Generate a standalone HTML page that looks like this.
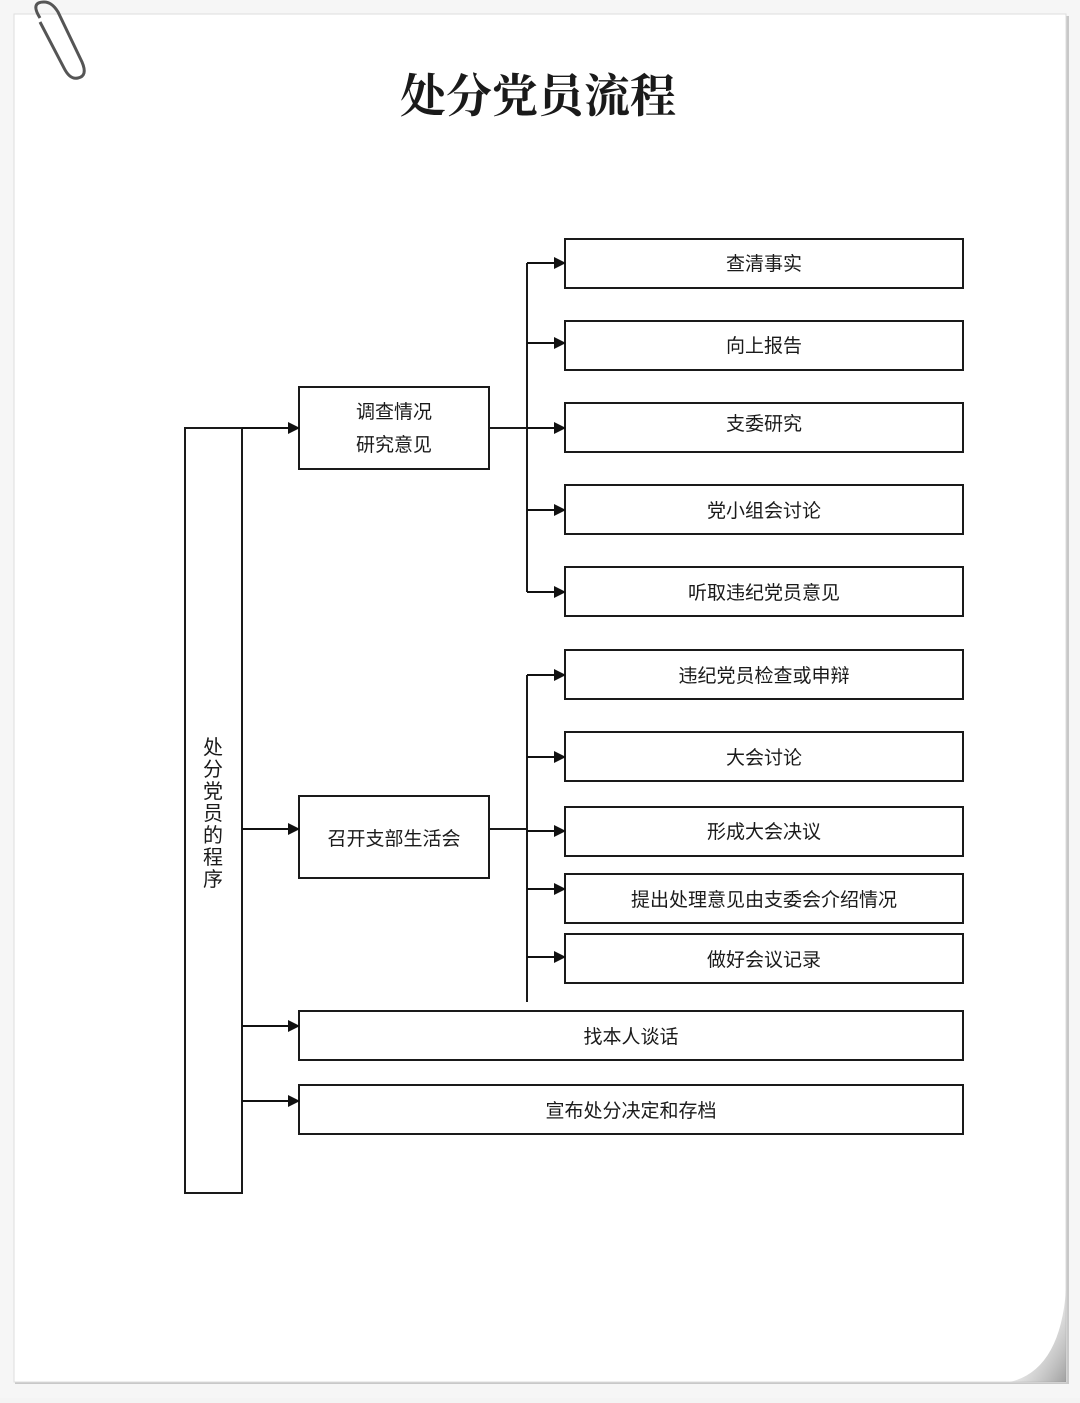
<!DOCTYPE html>
<html><head><meta charset="utf-8">
<style>
html,body{margin:0;padding:0;background:#f4f4f4;}
body{width:1080px;height:1398px;overflow:hidden;}
svg text{font-family:"Liberation Sans","Noto Sans CJK SC",sans-serif;fill:#1a1a1a;}
</style></head>
<body>
<svg width="1080" height="1398" viewBox="0 0 1080 1398" xmlns="http://www.w3.org/2000/svg">
<defs>
<marker id="a" markerWidth="12" markerHeight="12" refX="11" refY="6" orient="auto" markerUnits="userSpaceOnUse">
<path d="M0,0 L12,6 L0,12 Z" fill="#111"/>
</marker>
<linearGradient id="curl" x1="0" y1="0" x2="1" y2="1">
<stop offset="0" stop-color="#fff" stop-opacity="0"/>
<stop offset="1" stop-color="#888" stop-opacity="0.8"/>
</linearGradient>
</defs>
<rect x="0" y="0" width="1080" height="1398" fill="#f6f6f6"/>
<rect x="15" y="16" width="1054" height="1368" fill="#c8c8c8"/>
<rect x="14" y="14" width="1052" height="1368" fill="#fff" stroke="#ddd" stroke-width="1"/>
<path d="M1066,1290 Q1060,1370 1010,1382 L1066,1382 Z" fill="url(#curl)"/>
<path d="M40,18 Q30,2 44,2 Q52,2 58,12 L82,62 Q88,76 78,78 Q70,80 64,68 L40,22" fill="none" stroke="#555" stroke-width="3"/>
<text x="538" y="112" font-size="46" font-weight="bold" text-anchor="middle" style="font-family:'Liberation Serif','Noto Serif CJK SC',serif" fill="#111">处分党员流程</text>
<g stroke="#1a1a1a" stroke-width="2" fill="none">
<rect x="185" y="428" width="57" height="765"/>
<rect x="299" y="387" width="190" height="82"/>
<rect x="299" y="796" width="190" height="82"/>
<rect x="565" y="239" width="398" height="49"/>
<rect x="565" y="321" width="398" height="49"/>
<rect x="565" y="403" width="398" height="49"/>
<rect x="565" y="485" width="398" height="49"/>
<rect x="565" y="567" width="398" height="49"/>
<rect x="565" y="650" width="398" height="49"/>
<rect x="565" y="732" width="398" height="49"/>
<rect x="565" y="807" width="398" height="49"/>
<rect x="565" y="874" width="398" height="49"/>
<rect x="565" y="934" width="398" height="49"/>
<rect x="299" y="1011" width="664" height="49"/>
<rect x="299" y="1085" width="664" height="49"/>
<line x1="527" y1="263" x2="527" y2="592"/>
<line x1="527" y1="675" x2="527" y2="1002"/>
<line x1="489" y1="428" x2="527" y2="428"/>
<line x1="489" y1="829" x2="527" y2="829"/>
</g>
<g stroke="#111" stroke-width="2" marker-end="url(#a)">
<line x1="242" y1="428" x2="299" y2="428"/>
<line x1="242" y1="829" x2="299" y2="829"/>
<line x1="242" y1="1026" x2="299" y2="1026"/>
<line x1="242" y1="1101" x2="299" y2="1101"/>
<line x1="527" y1="263" x2="565" y2="263"/>
<line x1="527" y1="343" x2="565" y2="343"/>
<line x1="527" y1="428" x2="565" y2="428"/>
<line x1="527" y1="510" x2="565" y2="510"/>
<line x1="527" y1="592" x2="565" y2="592"/>
<line x1="527" y1="675" x2="565" y2="675"/>
<line x1="527" y1="757" x2="565" y2="757"/>
<line x1="527" y1="831" x2="565" y2="831"/>
<line x1="527" y1="889" x2="565" y2="889"/>
<line x1="527" y1="957" x2="565" y2="957"/>
</g>
<g font-size="19" text-anchor="middle">
<text x="394" y="418">调查情况</text>
<text x="394" y="451">研究意见</text>
<text x="394" y="845">召开支部生活会</text>
<text x="764" y="270">查清事实</text>
<text x="764" y="352">向上报告</text>
<text x="764" y="430">支委研究</text>
<text x="764" y="517">党小组会讨论</text>
<text x="764" y="599">听取违纪党员意见</text>
<text x="764" y="682">违纪党员检查或申辩</text>
<text x="764" y="764">大会讨论</text>
<text x="764" y="838">形成大会决议</text>
<text x="764" y="906">提出处理意见由支委会介绍情况</text>
<text x="764" y="966">做好会议记录</text>
<text x="631" y="1043">找本人谈话</text>
<text x="631" y="1117">宣布处分决定和存档</text>
</g>
<g font-size="20" text-anchor="middle">
<text x="213" y="754">处</text>
<text x="213" y="776">分</text>
<text x="213" y="798">党</text>
<text x="213" y="820">员</text>
<text x="213" y="842">的</text>
<text x="213" y="864">程</text>
<text x="213" y="886">序</text>
</g>
</svg>
</body></html>
